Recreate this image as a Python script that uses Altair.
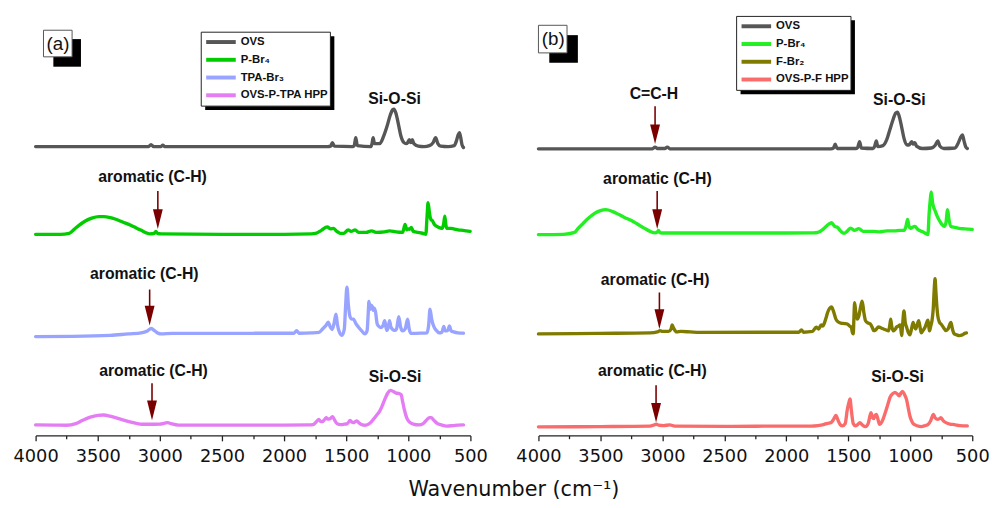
import altair as alt
import pandas as pd

# ---------------- panel (a) spectra (wavenumber, offset intensity) ----------------
a_ovs_w = [4000, 3500, 3090, 3071, 3050, 2990, 2976, 2960, 2500, 1650, 1625, 1611, 1595, 1450, 1435, 1423, 1410,
           1300, 1292, 1283, 1272, 1230, 1200, 1170, 1145, 1125, 1115, 1100, 1080, 1060, 1035, 1018, 1005, 992, 980,
           968, 955, 920, 873, 830, 800, 780, 762, 740, 680, 630, 612, 598, 588, 578, 568, 556]
a_ovs_v = [293, 293, 293, 295, 293, 293, 294.5, 293, 293, 293, 293.5, 297, 293.5, 293, 294, 302, 294,
           293, 296, 302, 296, 296, 303, 314, 325, 330.5, 331, 327, 316, 304, 297, 296, 297, 300, 297,
           300, 296, 293.5, 293, 294, 297, 302, 296, 293.5, 293, 294, 299, 305, 307, 302, 295, 292]

a_pbr_w = [4000, 3800, 3730, 3690, 3651, 3600, 3548, 3490, 3452, 3400, 3360, 3300, 3230, 3190, 3150, 3110, 3080,
           3045, 3032, 3020, 2990, 2500, 2000, 1780, 1746, 1700, 1653, 1625, 1603, 1575, 1547, 1520, 1484, 1460,
           1428, 1400, 1340, 1296, 1260, 1190, 1151, 1100, 1045, 1026, 1012, 1000, 990, 976, 960, 900, 870, 859,
           849, 841, 830, 818, 807, 790, 770, 745, 728, 716, 706, 698, 690, 660, 635, 600, 560, 502]
a_pbr_v = [204, 204, 205, 209, 213, 217.5, 220.5, 222, 222, 221, 219.5, 216.5, 213, 210.5, 208, 205.5, 204.5,
           205, 207, 205, 204.5, 204, 204, 204.5, 205, 208, 211.5, 209.5, 210, 207, 205, 205, 208.5, 207,
           208.5, 206, 206, 207.5, 206, 206.5, 207.5, 206.5, 206, 214, 208.5, 209.5, 209, 211, 207, 205.5, 204.5, 204,
           222, 236, 226, 219, 218, 214, 212, 210.5, 210, 214, 222.5, 214, 210, 210, 209.5, 208.5, 208, 207]

a_tpa_w = [4000, 3700, 3400, 3254, 3150, 3100, 3069, 3040, 3010, 2992, 2900, 2500, 2000, 1920, 1899, 1880, 1780,
           1720, 1690, 1660, 1645, 1628, 1613, 1597, 1582, 1570, 1552, 1534, 1515, 1505, 1494, 1482, 1468, 1455,
           1442, 1420, 1402, 1375, 1349, 1332, 1322, 1317, 1308, 1300, 1291, 1283, 1275, 1265, 1250, 1240, 1222,
           1205, 1190, 1180, 1172, 1160, 1151, 1140, 1111, 1095, 1077, 1062, 1045, 1025, 1005, 993, 978, 900,
           850, 836, 825, 812, 793, 770, 754, 730, 714, 703, 693, 680, 669, 655, 635, 600, 556]
a_tpa_v = [100.3, 100.5, 101.5, 103, 104, 106, 108.5, 106, 103.5, 103, 103.5, 103.5, 103.7, 103.7, 106.3, 103.7, 104,
           104.5, 108, 112, 115, 110, 107.5, 114, 123, 112, 104, 101.5, 108, 130, 150.5, 132, 120, 118,
           118, 113, 110, 106, 103, 106, 125, 136, 128, 132, 131, 127, 129, 126, 113, 111, 109.5,
           111, 116.5, 110, 106.5, 110, 116.5, 110, 106.5, 108, 120.5, 110, 106, 108, 118, 108, 103.5, 103.7,
           104, 112, 128, 118, 110, 106, 104, 104.5, 110.5, 106, 106, 107, 111, 106, 105, 104, 103.7]

a_hpp_w = [4000, 3850, 3750, 3677, 3620, 3560, 3500, 3452, 3400, 3330, 3250, 3180, 3148, 3080, 3000, 2960, 2936,
           2910, 2850, 2500, 2000, 1800, 1767, 1740, 1720, 1705, 1693, 1675, 1661, 1648, 1635, 1620, 1609, 1595,
           1574, 1545, 1521, 1490, 1468, 1455, 1442, 1428, 1415, 1395, 1370, 1349, 1320, 1300, 1283, 1255, 1230,
           1210, 1190, 1165, 1143, 1120, 1098, 1075, 1058, 1045, 1032, 1010, 992, 960, 913, 880, 850, 830, 815,
           795, 765, 740, 690, 640, 600, 556]
a_hpp_v = [10.7, 10.5, 10.3, 12, 15.5, 18.5, 20.3, 20.7, 19.5, 17, 14, 12, 11.3, 11.3, 11.5, 12.5, 13,
           12, 10.5, 10.5, 10.5, 10.7, 11, 14, 16.3, 14, 14, 16, 18, 16.5, 16.7, 18, 19, 16,
           12, 11, 11.3, 12, 15.3, 13.5, 13, 14, 14.7, 12.5, 10.7, 10.3, 11.5, 13.5, 16, 20.5, 24.7,
           30, 36.3, 43, 45.7, 44.5, 43, 42.5, 41.3, 34, 26.3, 17, 13.7, 11.5, 10.7, 12, 16, 18, 18,
           15.5, 12, 11, 9.5, 10, 10.5, 10.7]

# ---------------- panel (b) spectra ----------------
b_ovs_w = [4000, 3500, 3080, 3059, 3040, 2980, 2960, 2940, 2500, 1640, 1620, 1606, 1590, 1440, 1425, 1409, 1395,
           1300, 1288, 1274, 1262, 1220, 1190, 1165, 1140, 1118, 1104, 1090, 1070, 1050, 1030, 1010, 989, 978,
           963, 950, 900, 830, 800, 778, 762, 730, 640, 615, 595, 579, 565, 552, 540]
b_ovs_v = [290.7, 290.7, 290.7, 292.5, 291, 291, 292.5, 290.7, 290.7, 290.7, 291.5, 295.3, 291, 291, 292, 298, 291.5,
           291, 293, 298.7, 293, 294, 300, 310, 320, 327, 328, 324, 313, 301, 295, 294.5, 298, 295.5,
           297, 293.5, 291, 291.5, 294, 298.7, 293.5, 291, 291.5, 296, 302, 304.7, 298, 292.5, 291]

b_pbr_w = [4000, 3800, 3708, 3680, 3640, 3602, 3550, 3500, 3457, 3400, 3350, 3310, 3250, 3205, 3150, 3099, 3060,
           3040, 3032, 3020, 2990, 2500, 2000, 1780, 1746, 1700, 1660, 1635, 1610, 1587, 1560, 1534, 1510, 1481,
           1450, 1415, 1380, 1340, 1295, 1250, 1190, 1130, 1083, 1050, 1035, 1022, 1010, 999, 985, 963, 940, 900,
           870, 858, 848, 838, 831, 820, 810, 800, 785, 765, 745, 725, 712, 699, 688, 672, 640, 606, 560, 500]
b_pbr_v = [203.7, 204, 206, 210, 215, 219.7, 225, 228, 229, 227, 224, 221.3, 218, 214.7, 210.5, 207, 205.5,
           206.5, 208, 205.8, 205.3, 205.3, 205.3, 205.5, 206, 209.5, 214, 215.7, 212, 211, 207, 205, 207, 210.3,
           208, 209.7, 207, 207, 207, 206.5, 207.5, 207.5, 208, 208, 212, 219, 212, 210, 211, 212, 209, 206.5,
           204.5, 203.7, 225, 240, 247, 236, 231, 228, 223, 218, 214, 212, 216, 229, 219, 212, 211, 210, 209.5, 209]

b_fbr_w = [4000, 3500, 3100, 3040, 3019, 3000, 2950, 2930, 2921, 2910, 2886, 2850, 2775, 2700, 2000, 1900, 1878,
           1860, 1790, 1759, 1740, 1719, 1705, 1693, 1680, 1667, 1650, 1635, 1620, 1600, 1587, 1560, 1530, 1508,
           1490, 1476, 1466, 1460, 1455, 1449, 1440, 1428, 1415, 1400, 1388, 1375, 1361, 1340, 1322, 1305, 1295,
           1280, 1256, 1235, 1216, 1195, 1176, 1165, 1158, 1150, 1136, 1120, 1110, 1095, 1083, 1076, 1070, 1062,
           1051, 1040, 1030, 1015, 1003, 990, 977, 966, 956, 945, 932, 920, 911, 900, 880, 866, 858, 850, 845,
           835, 824, 815, 806, 800, 793, 785, 778, 765, 752, 735, 712, 695, 680, 672, 660, 645, 625, 606, 580,
           560, 547]
b_fbr_v = [103, 103.5, 104, 105, 106.3, 105.5, 105.5, 108, 112, 109, 105, 105.5, 105, 104.5, 104.7, 104.7, 107,
           104.7, 105.5, 109.7, 108, 112, 111, 114, 119, 124.7, 129, 130.3, 126, 118, 115.7, 114, 113.5, 113,
           111, 109.7, 104, 103, 118, 134.7, 125, 118, 121, 131, 136.3, 125, 116.3, 114, 113, 109, 106.3,
           107, 110, 109, 108, 107, 106, 112, 118, 111, 106, 108, 110, 111, 112, 108, 101.3, 112,
           126.3, 114, 110, 104, 102, 108, 114.7, 110, 108, 112, 116.3, 109, 104, 106, 110, 115, 117, 110, 106,
           111, 117, 128, 150, 159, 145, 130, 121.3, 115, 113, 110, 106.3, 108, 113, 114.7, 108, 103, 102, 101.3, 102,
           103.5, 104]

b_hpp_w = [4000, 3500, 3100, 3070, 3051, 3030, 2990, 2940, 2900, 2500, 2000, 1800, 1746, 1700, 1667, 1640, 1620,
           1600, 1585, 1565, 1547, 1525, 1508, 1496, 1486, 1475, 1460, 1441, 1425, 1407, 1385, 1361, 1340, 1325,
           1317, 1305, 1295, 1285, 1274, 1262, 1248, 1225, 1202, 1180, 1162, 1140, 1123, 1105, 1088, 1075, 1062,
           1045, 1030, 1015, 1003, 990, 977, 945, 911, 880, 858, 835, 820, 813, 800, 778, 765, 752, 735, 712, 680,
           645, 600, 540]
b_hpp_v = [8.7, 9, 9.5, 10.5, 11.3, 10.5, 10, 10.7, 9.5, 9.2, 9.5, 9.5, 10, 11, 12.3, 13, 16,
           20.3, 16, 11, 9.7, 12, 26.3, 33, 37, 25, 12, 9.7, 11, 13, 10.5, 9, 12, 20,
           23, 18, 17, 20, 21.3, 17, 11.3, 15, 23, 32, 39, 42.5, 43.7, 42, 40.3, 43, 44.7,
           41, 36.3, 27, 19.7, 15, 12, 9.8, 9, 10, 11, 15, 20, 21.3, 18, 16.3, 17, 18, 15, 13, 11.5,
           11, 10, 9.7]

# ---------------- names / colours ----------------
a_names = ["OVS", "P-Br\u2084", "TPA-Br\u2083", "OVS-P-TPA HPP"]
a_colors = ["#565656", "#00cc00", "#98a4ff", "#e47cf4"]
b_names = ["OVS", "P-Br\u2084", "F-Br\u2082", "OVS-P-F HPP"]
b_colors = ["#565656", "#22f022", "#7f7a00", "#fa6c6c"]

# ---------------- annotations ----------------
a_ann_text = ["Si-O-Si", "aromatic (C-H)", "aromatic (C-H)", "aromatic (C-H)", "Si-O-Si"]
a_ann_w = [1111, 3059, 3125, 3051, 1107]
a_ann_v = [341, 262, 164, 65, 59]
a_arrow_w = [3016, 3082, 3063]
a_arrow_top = [248, 148, 53]
a_arrow_tip = [209.5, 111.5, 15.5]

b_ann_text = ["C=C-H", "Si-O-Si", "aromatic (C-H)", "aromatic (C-H)", "aromatic (C-H)", "Si-O-Si"]
b_ann_w = [3068, 1088, 3040, 3059, 3081, 1102]
b_ann_v = [346, 340, 260, 158, 65, 59]
b_arrow_w = [3059, 3042, 3024, 3051]
b_arrow_top = [334, 248, 145, 51]
b_arrow_tip = [295.5, 209.5, 108, 13]

tick_vals = list(range(4000, 499, -250))
HEAD = 20  # arrow head length (px)
ARROW = "#7a0000"


def x_enc():
    return alt.X(
        "w:Q",
        scale=alt.Scale(domain=[4000, 500], nice=False, zero=False),
        axis=alt.Axis(
            values=tick_vals, title=None, format="d", labelFlush=False, labelOverlap=False, grid=False,
            labelExpr="datum.value % 500 === 0 ? datum.label : ''",
            tickSize={"condition": {"test": "datum.value % 500 === 0", "value": 5.5}, "value": 3.3},
        ),
    )


def y_scale():
    return alt.Scale(domain=[0, 430], nice=False, zero=False)


def panel(curves, names, colors, ann, arrows, leg_xy, leg_box, leg_shadow, lab, lab_box, lab_shadow, width):
    df = pd.concat(
        [pd.DataFrame({"w": w, "v": v, "series": n}) for (w, v), n in zip(curves, names)],
        ignore_index=True,
    )
    lines = alt.Chart(df).mark_line(strokeWidth=3.4, interpolate="monotone", strokeJoin="round",
                                    strokeCap="round").encode(
        x=x_enc(),
        y=alt.Y("v:Q", scale=y_scale(), axis=None),
        color=alt.Color(
            "series:N",
            scale=alt.Scale(domain=names, range=colors),
            sort=names,
            legend=alt.Legend(
                orient="none", legendX=leg_xy[0], legendY=leg_xy[1], title=None,
                padding=0, rowPadding=0,
                symbolType="M-1,0H3", symbolSize=225, symbolStrokeWidth=4,
                labelFont="Liberation Sans", labelFontWeight="bold", labelFontSize=11.5,
                labelColor="#111", labelOffset=18,
            ),
        ),
        detail="series:N",
    )
    tdf = pd.DataFrame({"text": ann[0], "w": ann[1], "v": ann[2]})
    texts = alt.Chart(tdf).mark_text(font="Liberation Sans", fontWeight="bold", fontSize=16,
                                     baseline="middle", align="center", color="#111").encode(
        x=x_enc(), y=alt.Y("v:Q", scale=y_scale(), axis=None), text="text:N")
    adf = pd.DataFrame({"w": arrows[0], "top": arrows[1], "tip": arrows[2]})
    adf["head"] = adf["tip"] + HEAD / 2
    shafts = alt.Chart(adf).mark_rule(color=ARROW, strokeWidth=1.6).encode(
        x=x_enc(), y=alt.Y("top:Q", scale=y_scale(), axis=None), y2="head:Q")
    heads = alt.Chart(adf).mark_point(shape="M-0.5,-1L0.5,-1L0,1Z", size=HEAD * HEAD, filled=True,
                                      color=ARROW, opacity=1, strokeWidth=0).encode(
        x=x_enc(), y=alt.Y("head:Q", scale=y_scale(), axis=None))
    one = pd.DataFrame({"k": [0]})

    def box(b, fill, stroke=None):
        kw = dict(fill=fill)
        if stroke:
            kw.update(stroke=stroke, strokeWidth=1)
        return alt.Chart(one).mark_rect(**kw).encode(
            x=alt.value(b[0]), x2=alt.value(b[2]), y=alt.value(b[1]), y2=alt.value(b[3]))

    leg_sh = box(leg_shadow, "black")
    leg_bx = box(leg_box, "white", "#222")
    lab_sh = box(lab_shadow, "black")
    lab_bx = box(lab_box, "white", "#555")
    lab_tx = alt.Chart(one).mark_text(font="Liberation Sans", fontSize=19, baseline="middle",
                                      align="center", color="#111").encode(
        x=alt.value(lab[1]), y=alt.value(lab[2]), text=alt.value(lab[0]))
    return alt.layer(leg_sh, leg_bx, lab_sh, lab_bx, lab_tx, lines, shafts, heads, texts).properties(
        width=width, height=430)


pa = panel(
    [(a_ovs_w, a_ovs_v), (a_pbr_w, a_pbr_v), (a_tpa_w, a_tpa_v), (a_hpp_w, a_hpp_v)],
    a_names, a_colors, (a_ann_text, a_ann_w, a_ann_v), (a_arrow_w, a_arrow_top, a_arrow_tip),
    (171, 21.5), (168, 21, 299, 96), (172, 25, 303, 100),
    ("(a)", 22.7, 33.5), (8, 19, 37, 46), (18, 28, 46, 56), 441,
)
pb = panel(
    [(b_ovs_w, b_ovs_v), (b_pbr_w, b_pbr_v), (b_fbr_w, b_fbr_v), (b_hpp_w, b_hpp_v)],
    b_names, b_colors, (b_ann_text, b_ann_w, b_ann_v), (b_arrow_w, b_arrow_top, b_arrow_tip),
    (204, 5.5), (201, 5, 317, 80), (205, 9, 321, 84),
    ("(b)", 15, 28), (0, 14, 29, 42), (11, 24, 40, 52), 440,
)

chart = alt.hconcat(pa, pb, spacing=28).resolve_scale(color="independent").properties(
    padding={"left": 5, "top": 0, "right": 0, "bottom": 0},
    title=alt.TitleParams(
        text="Wavenumber (cm\u207b\u00b9)", orient="bottom", anchor="middle", font="DejaVu Sans",
        fontSize=21, fontWeight="normal", color="#111", offset=14, dx=13,
    ),
).configure_view(stroke=None).configure_axis(
    labelFont="DejaVu Sans", labelFontSize=18, labelColor="#111", labelPadding=7,
    domainColor="#222", tickColor="#222", domainWidth=1.3, tickWidth=1.3,
)

chart.save("out.html", embed_options={"renderer": "svg", "actions": False})
